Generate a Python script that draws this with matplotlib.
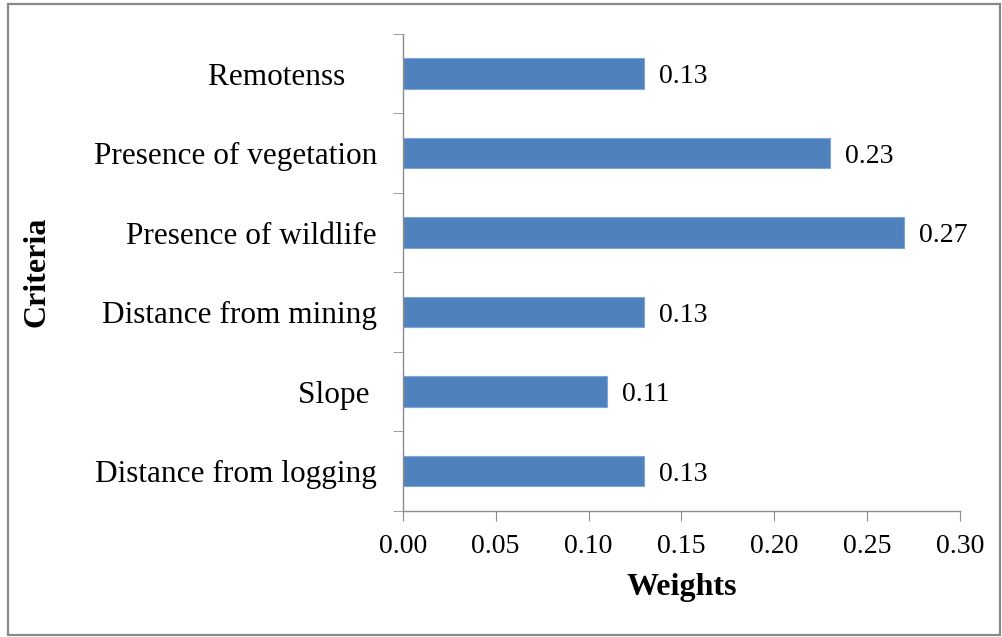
import matplotlib.pyplot as plt
import matplotlib.patches as mpatches
import numpy as np

# criteria weights, bottom to top
criteria = ['Distance from logging', 'Slope ', 'Distance from mining',
            'Presence of wildlife', 'Presence of vegetation', 'Remotenss    ']
weights = [0.13, 0.11, 0.13, 0.27, 0.23, 0.13]
x_ticks = [0.00, 0.05, 0.10, 0.15, 0.20, 0.25, 0.30]

plt.rcParams['font.family'] = ['Liberation Serif', 'DejaVu Serif']

fig = plt.figure(figsize=(10.02, 6.37), dpi=100)
ax = fig.add_axes([0.402, 0.198, 0.556, 0.749])

pos = np.arange(len(criteria))
bars = ax.barh(pos, weights, height=0.38, color='#4F81BD', edgecolor='#7FA6D6', linewidth=0.8)

for p, w in zip(pos, weights):
    ax.text(w + 0.008, p, f'{w:.2f}', va='center_baseline', ha='left', fontsize=20)

ax.set_xlim(0, 0.30)
ax.set_ylim(-0.5, len(criteria) - 0.5)
ax.set_xticks(x_ticks)
ax.set_xticklabels([f'{t:.2f}' for t in x_ticks], fontsize=20)

# category labels at centres, tick marks at boundaries
ax.set_yticks(pos)
ax.set_yticklabels(criteria, fontsize=22.5)
ax.set_yticks(np.arange(-0.5, len(criteria)), minor=True)
ax.tick_params(axis='y', which='major', length=0, pad=18.5)
ax.tick_params(axis='y', which='minor', length=7, color='#8C8C8C', direction='out')
ax.tick_params(axis='x', length=7, color='#8C8C8C', direction='out', pad=9.5)

for side in ['top', 'right']:
    ax.spines[side].set_visible(False)
for side in ['left', 'bottom']:
    ax.spines[side].set_color('#8C8C8C')
    ax.spines[side].set_linewidth(1.0)

ax.set_xlabel('Weights', fontsize=23, fontweight='bold', labelpad=10)
fig.text(0.037, 0.573, 'Criteria', rotation=90, va='center', ha='center',
         fontsize=23, fontweight='bold')

# frame around the whole chart
fig.patches.append(mpatches.Rectangle((0.008, 0.003), 0.99, 0.99, transform=fig.transFigure,
                                      fill=False, edgecolor='#888888', linewidth=1.6))

plt.savefig('out.png', dpi=100)
